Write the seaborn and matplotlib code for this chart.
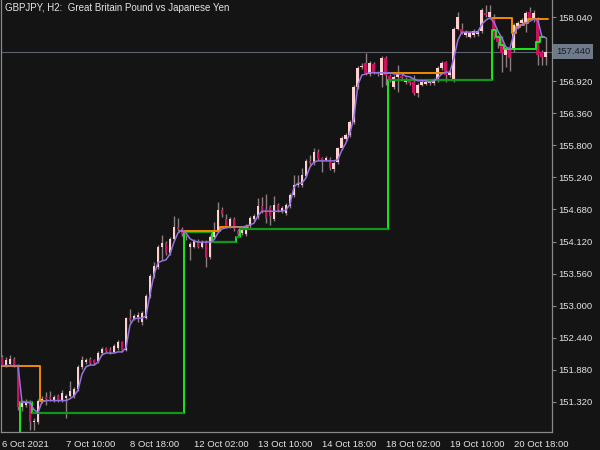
import numpy as np
import pandas as pd
import seaborn as sns
import matplotlib.pyplot as plt
from matplotlib.transforms import blended_transform_factory

title = "GBPJPY, H2:  Great Britain Pound vs Japanese Yen"
date_ticks = [0, 16, 32, 48, 64, 80, 96, 112, 128]
date_labels = ["6 Oct 2021", "7 Oct 10:00", "8 Oct 18:00", "12 Oct 02:00", "13 Oct 10:00",
               "14 Oct 18:00", "18 Oct 02:00", "19 Oct 10:00", "20 Oct 18:00"]
price_ticks = [151.32, 151.88, 152.44, 153.00, 153.56, 154.12, 154.68,
               155.24, 155.80, 156.36, 156.92, 158.04]
last_price = 157.44

# H2 candles
opens = [152.10, 151.96, 151.98, 152.07, 151.96, 151.22, 151.27, 151.32, 150.96, 150.97,
         151.33, 151.41, 151.41, 151.35, 151.43, 151.34, 151.38, 151.42, 151.42, 151.54,
         151.93, 152.01, 152.06, 152.04, 152.03, 152.17, 152.25, 152.23, 152.19, 152.25,
         152.36, 152.22, 152.78, 152.77, 152.80, 152.71, 152.78, 153.17, 153.52, 153.67,
         154.03, 154.10, 153.92, 154.17, 154.37, 154.34, 154.25, 154.03, 154.03, 154.13,
         154.03, 154.11, 153.85, 154.20, 154.31, 154.67, 154.51, 154.39, 154.51, 154.31,
         154.27, 154.25, 154.39, 154.51, 154.55, 154.74, 154.69, 154.72, 154.51, 154.76,
         154.65, 154.62, 154.74, 154.93, 155.11, 155.11, 155.27, 155.53, 155.49, 155.69,
         155.58, 155.55, 155.56, 155.39, 155.51, 155.75, 155.91, 155.98, 156.21, 156.82,
         157.17, 157.24, 157.05, 157.22, 157.07, 157.03, 157.33, 157.01, 156.82, 157.00,
         157.02, 156.91, 156.94, 156.91, 156.72, 156.86, 156.88, 156.89, 156.89, 156.93,
         157.15, 157.26, 157.03, 156.94, 157.84, 157.84, 157.73, 157.70, 157.73, 157.75,
         157.80, 158.12, 158.05, 158.03, 157.70, 157.68, 157.38, 157.49, 157.47, 157.87,
         157.94, 157.95, 158.13, 157.99, 158.00, 157.43, 157.35]
highs = [152.14, 152.10, 152.14, 152.10, 151.98, 151.35, 151.36, 151.35, 151.03, 151.36,
         151.42, 151.49, 151.50, 151.44, 151.46, 151.52, 151.45, 151.68, 151.58, 151.96,
         152.12, 152.08, 152.10, 152.07, 152.20, 152.27, 152.28, 152.27, 152.32, 152.40,
         152.38, 152.80, 152.94, 152.86, 152.88, 152.90, 153.20, 153.55, 153.76, 154.06,
         154.24, 154.13, 154.20, 154.57, 154.53, 154.38, 154.30, 154.11, 154.16, 154.16,
         154.14, 154.14, 154.23, 154.46, 154.81, 154.72, 154.60, 154.55, 154.55, 154.34,
         154.38, 154.43, 154.56, 154.60, 154.88, 154.90, 154.95, 154.75, 154.92, 154.80,
         154.74, 154.79, 154.96, 155.28, 155.28, 155.41, 155.56, 155.63, 155.75, 155.74,
         155.60, 155.61, 155.59, 155.52, 155.78, 155.96, 156.01, 156.24, 156.85, 157.18,
         157.24, 157.41, 157.27, 157.25, 157.10, 157.36, 157.36, 157.05, 157.03, 157.21,
         157.06, 157.00, 156.97, 157.03, 156.89, 156.94, 156.94, 156.96, 156.97, 157.18,
         157.27, 157.28, 157.12, 157.87, 158.13, 157.94, 157.81, 157.80, 157.84, 157.83,
         158.20, 158.25, 158.25, 158.10, 157.73, 157.72, 157.52, 157.52, 157.94, 157.97,
         158.02, 158.15, 158.22, 158.17, 158.05, 157.47, 157.70]
lows = [151.94, 151.93, 151.95, 151.93, 151.18, 151.15, 151.22, 150.83, 150.83, 150.93,
        151.30, 151.27, 151.33, 151.32, 151.31, 151.32, 151.04, 151.40, 151.38, 151.50,
        151.90, 151.98, 151.96, 151.96, 152.00, 152.14, 152.18, 152.16, 152.17, 152.22,
        152.18, 152.20, 152.72, 152.74, 152.71, 152.66, 152.76, 153.14, 153.49, 153.64,
        153.80, 153.88, 153.89, 154.14, 154.31, 154.22, 154.15, 153.80, 154.00, 154.00,
        154.00, 153.67, 153.82, 154.17, 154.28, 154.55, 154.36, 154.36, 154.30, 154.20,
        154.24, 154.22, 154.36, 154.48, 154.52, 154.62, 154.44, 154.41, 154.48, 154.64,
        154.62, 154.59, 154.71, 154.90, 155.08, 155.08, 155.24, 155.46, 155.46, 155.54,
        155.34, 155.52, 155.37, 155.34, 155.48, 155.72, 155.88, 155.95, 156.18, 156.79,
        157.14, 157.03, 157.02, 157.04, 157.01, 156.82, 156.85, 156.90, 156.79, 156.74,
        156.95, 156.88, 156.86, 156.69, 156.65, 156.83, 156.85, 156.86, 156.86, 156.90,
        157.12, 156.91, 157.00, 156.91, 157.81, 157.74, 157.70, 157.67, 157.70, 157.72,
        157.77, 158.05, 158.02, 157.66, 157.50, 157.08, 157.17, 157.10, 157.44, 157.84,
        157.91, 157.78, 158.00, 157.96, 157.20, 157.21, 157.21]
closes = [151.96, 152.05, 152.07, 151.96, 151.22, 151.30, 151.31, 150.96, 150.99, 151.34,
          151.37, 151.37, 151.37, 151.40, 151.34, 151.47, 151.42, 151.50, 151.54, 151.93,
          152.05, 152.04, 151.99, 151.99, 152.17, 152.24, 152.21, 152.19, 152.29, 152.36,
          152.22, 152.78, 152.75, 152.82, 152.84, 152.87, 153.17, 153.52, 153.69, 154.03,
          154.10, 153.92, 154.17, 154.37, 154.34, 154.25, 154.22, 154.08, 154.13, 154.03,
          154.11, 153.85, 154.20, 154.29, 154.67, 154.60, 154.39, 154.51, 154.34, 154.25,
          154.34, 154.39, 154.53, 154.57, 154.74, 154.65, 154.53, 154.57, 154.76, 154.67,
          154.71, 154.76, 154.93, 155.11, 155.14, 155.28, 155.53, 155.49, 155.69, 155.57,
          155.51, 155.58, 155.40, 155.49, 155.75, 155.93, 155.98, 156.21, 156.82, 157.15,
          157.19, 157.07, 157.24, 157.07, 157.05, 157.33, 157.03, 156.96, 157.00, 157.05,
          156.98, 156.96, 156.89, 156.72, 156.86, 156.91, 156.91, 156.93, 156.94, 157.15,
          157.24, 157.03, 157.08, 157.84, 158.05, 157.77, 157.78, 157.77, 157.80, 157.80,
          158.17, 158.08, 158.13, 157.70, 157.60, 157.42, 157.49, 157.33, 157.91, 157.94,
          157.99, 158.12, 158.03, 158.12, 157.38, 157.35, 157.44]

# smoothed average (purple)
ma_line = [151.95, 151.95, 151.95, 151.95, 151.95, 151.31, 151.31, 151.30, 151.18, 151.13,
           151.32, 151.34, 151.34, 151.34, 151.34, 151.34, 151.34, 151.37, 151.42, 151.52,
           151.80, 151.93, 151.96, 151.96, 152.01, 152.14, 152.17, 152.17, 152.17, 152.19,
           152.19, 152.26, 152.66, 152.77, 152.78, 152.78, 152.82, 153.19, 153.54, 153.75,
           153.78, 153.80, 153.90, 154.11, 154.27, 154.32, 154.27, 154.17, 154.13, 154.11,
           154.11, 154.11, 154.11, 154.15, 154.27, 154.34, 154.36, 154.37, 154.37, 154.37,
           154.37, 154.39, 154.41, 154.44, 154.57, 154.65, 154.65, 154.65, 154.65, 154.65,
           154.65, 154.67, 154.77, 155.07, 155.14, 155.14, 155.23, 155.42, 155.51, 155.53,
           155.53, 155.53, 155.53, 155.53, 155.55, 155.72, 155.84, 156.02, 156.28, 156.86,
           157.03, 157.05, 157.07, 157.07, 157.07, 157.07, 157.07, 157.07, 157.05, 157.05,
           157.05, 157.01, 157.00, 156.96, 156.93, 156.93, 156.93, 156.91, 156.93, 156.98,
           157.05, 157.08, 157.08, 157.33, 157.64, 157.78, 157.78, 157.78, 157.78, 157.78,
           157.92, 157.99, 158.03, 157.96, 157.80, 157.68, 157.52, 157.49, 157.75, 157.87,
           157.91, 157.94, 157.97, 158.01, 157.99, 157.71, 157.68]

# step levels as (first bar, last bar, price)
resistance_runs = [(0, 9, 151.95), (10, 10, 151.33), (45, 54, 154.31), (55, 61, 154.37),
                   (96, 110, 157.07), (123, 127, 158.03), (128, 128, 157.77), (129, 129, 157.87),
                   (130, 130, 157.91), (131, 131, 157.94), (132, 136, 158.01)]
support_runs = [(4, 4, 150.70), (5, 7, 151.31), (8, 45, 151.13), (46, 52, 154.29),
                (53, 58, 154.11), (59, 59, 154.20), (60, 96, 154.34), (97, 122, 156.94),
                (123, 123, 157.82), (124, 124, 157.70), (125, 125, 157.56), (126, 133, 157.49),
                (134, 134, 157.60), (135, 135, 157.70)]

bg = "#141414"
frame = "#8a8a8a"
txt = "#e4e4e4"
bull = "#ffd0d0"
bear = "#c8145e"
wick = "#8c7e7e"

df = pd.DataFrame({"open": opens, "high": highs, "low": lows, "close": closes, "ma": ma_line})
df["bar"] = np.arange(len(df))
n = len(df)


def runs_to_array(runs):
    arr = np.full(n, np.nan)
    for a, b, v in runs:
        arr[a:b + 1] = v
    return arr


def steps(vals):
    x = np.column_stack([df.bar - 0.5, df.bar + 0.5]).ravel()
    return x, np.repeat(vals, 2)


resistance = runs_to_array(resistance_runs)
support = runs_to_array(support_runs)

sns.set_style("dark", {"axes.facecolor": bg, "figure.facecolor": bg, "axes.edgecolor": frame,
                       "text.color": txt, "xtick.color": frame, "ytick.color": frame,
                       "axes.grid": False})
plt.rcParams['font.family'] = ['Liberation Sans', 'DejaVu Sans']

fig = plt.figure(figsize=(6, 4.5), dpi=100, facecolor=bg)
ax = fig.add_axes([0.0017, 0.04, 0.918, 0.96])
ax.set_facecolor(bg)

ax.axhline(last_price, color="#5c626c", lw=0.8, zorder=1)

# candles
up = df.close >= df.open
ax.vlines(df.bar, df.low, df.high, color=wick, lw=1, zorder=2)
body = np.maximum((df.close - df.open).abs(), 0.018)
ax.bar(df.bar[up], body[up], bottom=df.open[up], width=0.7, color=bull, lw=0, zorder=3)
ax.bar(df.bar[~up], body[~up], bottom=df.close[~up], width=0.7, color=bear, lw=0, zorder=3)

# support: bright jumps, darker flat levels
sx, sy = steps(support)
ax.plot(sx, sy, color="#1ee61e", lw=1.4, zorder=4)
dark = support.copy()
dark[123:] = np.nan
m = ~np.isnan(dark)
ax.hlines(dark[m], df.bar[m] - 0.5, df.bar[m] + 0.5, color="#12961a", lw=1.6, zorder=4)

rx, ry = steps(resistance)
ax.plot(rx, ry, color="#f08c00", lw=1.4, zorder=4)

sns.lineplot(data=df, x="bar", y="ma", color="#9273e0", lw=1.1, ax=ax, zorder=5)

ax.set_xlim(-0.25, 137.5)
ax.set_ylim(150.79, 158.342)
ax.set_xlabel("")
ax.set_ylabel("")

ax.yaxis.tick_right()
ax.set_yticks(price_ticks)
ax.set_yticklabels([f"{v:.3f}" for v in price_ticks])
ax.set_xticks(date_ticks)
ax.set_xticklabels(date_labels)
for lbl in ax.get_xticklabels():
    lbl.set_horizontalalignment("left")
ax.tick_params(axis="y", direction="out", length=3, width=0.8, colors=frame,
               labelcolor=txt, labelsize=6.8, pad=1.5)
ax.tick_params(axis="x", direction="out", length=4, width=0.8, colors=frame,
               labelcolor=txt, labelsize=6.8, pad=1.5)

ax.spines["top"].set_visible(False)
for s in ["left", "right", "bottom"]:
    ax.spines[s].set_visible(True)
    ax.spines[s].set_color(frame)
    ax.spines[s].set_linewidth(0.9)

tr = blended_transform_factory(ax.transAxes, ax.transData)
ax.text(1.0075, last_price, f"{last_price:.3f}", transform=tr, ha="left", va="center",
        fontsize=6.8, color="#1b2028", clip_on=False,
        bbox=dict(boxstyle="square,pad=0.3", fc="#6e7989", ec="none"))

fig.text(5 / 600, 1 - 8 / 450, title, fontsize=7, color=txt, ha="left", va="center")

fig.savefig("out.png", dpi=100, facecolor=bg)
